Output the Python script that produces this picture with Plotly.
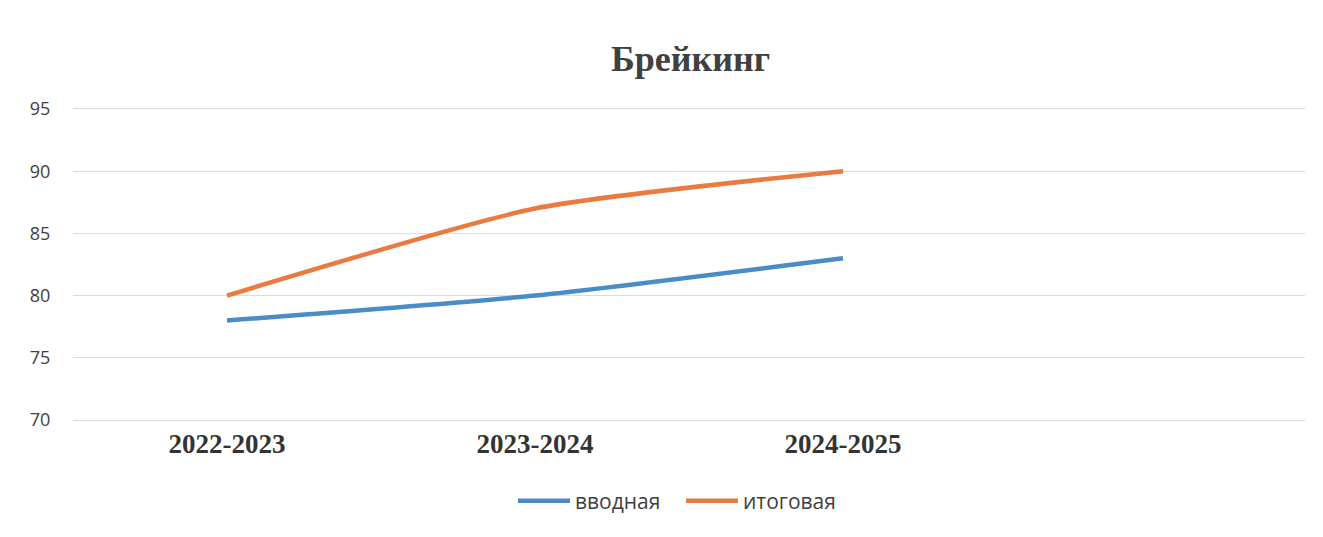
import plotly.graph_objects as go

categories = ["2022-2023", "2023-2024", "2024-2025"]
vvodnaya = [78, 80, 83]
itogovaya = [80, 87, 90]
y_ticks = [70, 75, 80, 85, 90, 95]

W, H = 1315, 529

fig = go.Figure()
fig.add_trace(go.Scatter(
    x=categories, y=vvodnaya, name="вводная", mode="lines",
    line=dict(color="#4a8cc8", width=4.5, shape="spline", smoothing=0.6),
))
fig.add_trace(go.Scatter(
    x=categories, y=itogovaya, name="итоговая", mode="lines",
    line=dict(color="#e97a40", width=4.5, shape="spline", smoothing=0.6),
))

fig.update_layout(
    width=W, height=H,
    margin=dict(l=65, r=18, t=96, b=112, autoexpand=False),
    paper_bgcolor="white", plot_bgcolor="white",
    title=dict(text="Брейкинг", x=0.519, xanchor="center", y=1 - 50 / H, yanchor="middle",
               font=dict(family="Liberation Serif", size=36, color="#404040", weight="bold")),
    showlegend=True,
    legend=dict(orientation="h", x=0.4935, xanchor="center", y=-0.237, yanchor="middle",
                font=dict(family="Open Sans", size=21, color="#404040"),
                itemwidth=52, entrywidth=101, entrywidthmode="pixels"),
)
fig.update_xaxes(
    type="category",
    categoryorder="array", categoryarray=categories + [" "],
    range=[-0.5, 3.5], automargin=False,
    showgrid=False, zeroline=False, showline=False,
    ticks="",
    tickfont=dict(family="Liberation Serif", size=27, color="#333333", weight="bold"),
)
fig.update_yaxes(
    range=[69.6, 95.4], tickvals=y_ticks, automargin=False,
    showgrid=True, gridcolor="#dcdcdc", gridwidth=1.2,
    zeroline=False, showline=False,
    ticks="outside", ticklen=18, tickcolor="rgba(0,0,0,0)",
    tickfont=dict(family="Open Sans", size=18, color="#404040"),
)
fig.write_html("out.html")
